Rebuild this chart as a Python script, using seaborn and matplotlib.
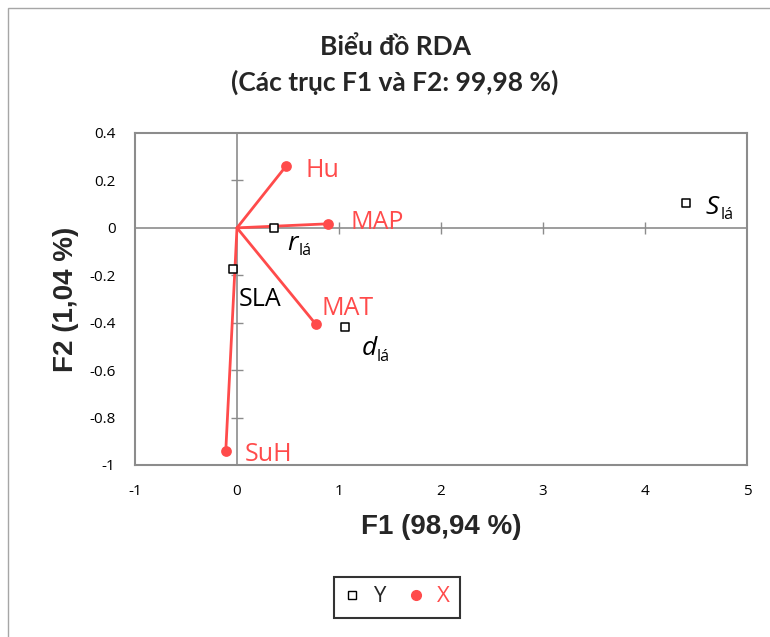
import matplotlib
matplotlib.use("Agg")
import matplotlib.pyplot as plt
from matplotlib.lines import Line2D
from matplotlib.patches import Rectangle
import seaborn as sns
import pandas as pd

# Explanatory variables (arrows from origin)
x_names = ["Hu", "MAP", "MAT", "SuH"]
x_f1 = [0.48, 0.89, 0.77, -0.11]
x_f2 = [0.26, 0.017, -0.405, -0.94]

# Response variables (hollow squares)
y_names = ["r", "SLA", "d", "S"]
y_f1 = [0.36, -0.04, 1.06, 4.40]
y_f2 = [0.0, -0.175, -0.42, 0.105]

x_ticks = [-1, 0, 1, 2, 3, 4, 5]
y_ticks = [-1, -0.8, -0.6, -0.4, -0.2, 0, 0.2, 0.4]

RED = "#FF4B4B"
GRAY = "#8C8C8C"

sns.set_theme(style="white")
plt.rcParams["font.family"] = ["Open Sans", "DejaVu Sans"]

fig = plt.figure(figsize=(7.7, 6.37), dpi=100)
ax = fig.add_axes([135 / 770, 1 - 465 / 637, (747 - 135) / 770, (465 - 133) / 637])

dfx = pd.DataFrame({"F1": x_f1, "F2": x_f2, "name": x_names})
dfy = pd.DataFrame({"F1": y_f1, "F2": y_f2, "name": y_names})

# zero axes with their own small tick marks
ax.axhline(0, color=GRAY, lw=1.2, zorder=1)
ax.axvline(0, color=GRAY, lw=1.2, zorder=1)
ax.plot([t for t in x_ticks if t not in (-1, 0, 5)], [0] * 4, ls="none", marker="|",
        ms=9, mew=1.0, color=GRAY, zorder=1)
ax.plot([0] * 5, [t for t in y_ticks if t not in (-1, 0, 0.4)], ls="none", marker="_",
        ms=9, mew=1.0, color=GRAY, zorder=1)

# arrows from origin
for fx, fy in zip(x_f1, x_f2):
    ax.plot([0, fx], [0, fy], color=RED, lw=2.0, zorder=2)
sns.scatterplot(data=dfx, x="F1", y="F2", ax=ax, color=RED, s=60, edgecolor=RED,
                linewidth=0, zorder=3, legend=False)
sns.scatterplot(data=dfy, x="F1", y="F2", ax=ax, marker="s", s=32, facecolor="white",
                edgecolor="black", linewidth=1.1, zorder=4, legend=False)

ax.set_xlim(-1, 5)
ax.set_ylim(-1, 0.4)
ax.set_xticks(x_ticks)
ax.set_yticks(y_ticks)
ax.set_xticklabels([str(t) for t in x_ticks])
ax.set_yticklabels(["-1", "-0.8", "-0.6", "-0.4", "-0.2", "0", "0.2", "0.4"])
ax.tick_params(axis="both", length=0, labelsize=11, colors="black")
ax.tick_params(axis="x", pad=14)
ax.tick_params(axis="y", pad=14)
for s in ax.spines.values():
    s.set_color(GRAY)
    s.set_linewidth(1.5)
ax.set_xlabel("")
ax.set_ylabel("")

# labels for explanatory variables
lab_fs = 18
off = {"Hu": (14, -3), "MAP": (16, 1), "MAT": (4, 11), "SuH": (14, -3)}
for n, fx, fy in zip(x_names, x_f1, x_f2):
    ax.annotate(n, (fx, fy), xytext=off[n], textcoords="offset points",
                color=RED, fontsize=lab_fs, va="center", ha="left")

# labels for response variables (italic letter with "lá" subscript)
sub_off = {"r": (10, -11), "d": (12, -15), "S": (14, -3)}
for n, fx, fy in zip(y_names, y_f1, y_f2):
    if n == "SLA":
        ax.annotate(n, (fx, fy), xytext=(4, -22), textcoords="offset points",
                    color="black", fontsize=lab_fs, va="center", ha="left")
        continue
    dx, dy = sub_off[n]
    ax.annotate(n, (fx, fy), xytext=(dx, dy), textcoords="offset points",
                color="black", fontsize=lab_fs + 1, style="italic", va="center", ha="left")
    w = 8 if n == "r" else 11
    ax.annotate("lá", (fx, fy), xytext=(dx + w, dy - 6), textcoords="offset points",
                color="black", fontsize=11.5, va="center", ha="left")

# titles and axis titles
title_font = ["Lato", "Open Sans", "DejaVu Sans"]
fig.text(395 / 770, 1 - 47 / 637, "Biểu đồ RDA", ha="center", va="center",
         fontsize=19, fontweight="bold", family=title_font)
fig.text(395 / 770, 1 - 82 / 637, "(Các trục F1 và F2: 99,98 %)", ha="center",
         va="center", fontsize=19, fontweight="bold", family=title_font)
axis_font = ["Liberation Sans Narrow", "Liberation Sans", "DejaVu Sans"]
fig.text(441 / 770, 1 - 527 / 637, "F1 (98,94 %)", ha="center", va="center",
         fontsize=20, fontweight="bold", family=axis_font)
fig.text(66 / 770, 1 - 299 / 637, "F2 (1,04 %)", ha="center", va="center",
         fontsize=20, fontweight="bold", rotation=90, family=axis_font)

# legend
handles = [
    Line2D([], [], ls="none", marker="s", ms=6, mfc="white", mec="black", mew=1.0),
    Line2D([], [], ls="none", marker="o", ms=7, mfc=RED, mec=RED),
]
leg = fig.legend(handles, ["Y", "X"], loc="center", bbox_to_anchor=(397 / 770, 1 - 597 / 637),
                 ncol=2, fontsize=16, frameon=True, fancybox=False, handlelength=0.7,
                 handletextpad=0.6, columnspacing=1.0, borderpad=0.45)
leg.get_frame().set_edgecolor("black")
leg.get_frame().set_linewidth(1.5)
leg.get_texts()[1].set_color(RED)

# outer chart border
fig.patches.append(Rectangle((8 / 770, -0.1), 1.2, 1 - 8 / 637 + 0.1, transform=fig.transFigure,
                             fill=False, edgecolor="#A6A6A6", lw=1.0))

fig.savefig("out.png", dpi=100)
